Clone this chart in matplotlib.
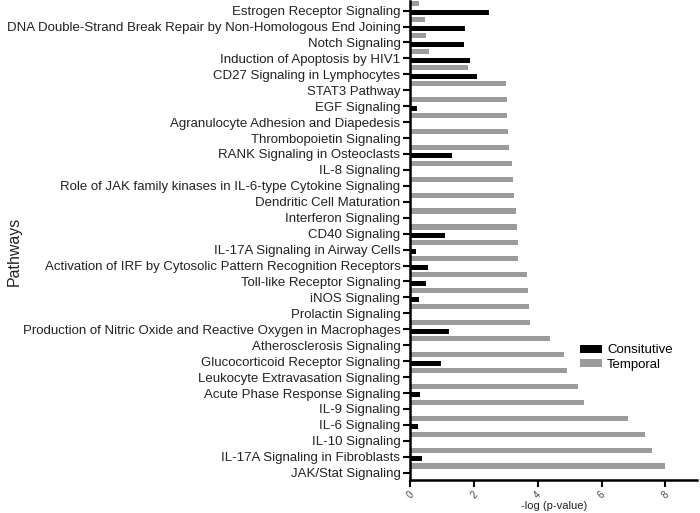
import numpy as np
import matplotlib
matplotlib.use('Agg')
import matplotlib.pyplot as plt
from matplotlib.patches import Patch

plt.rcParams['font.family'] = ['Liberation Sans', 'DejaVu Sans']

# pathways, listed bottom to top
pathways = [
    'JAK/Stat Signaling',
    'IL-17A Signaling in Fibroblasts',
    'IL-10 Signaling',
    'IL-6 Signaling',
    'IL-9 Signaling',
    'Acute Phase Response Signaling',
    'Leukocyte Extravasation Signaling',
    'Glucocorticoid Receptor Signaling',
    'Atherosclerosis Signaling',
    'Production of Nitric Oxide and Reactive Oxygen in Macrophages',
    'Prolactin Signaling',
    'iNOS Signaling',
    'Toll-like Receptor Signaling',
    'Activation of IRF by Cytosolic Pattern Recognition Receptors',
    'IL-17A Signaling in Airway Cells',
    'CD40 Signaling',
    'Interferon Signaling',
    'Dendritic Cell Maturation',
    'Role of JAK family kinases in IL-6-type Cytokine Signaling',
    'IL-8 Signaling',
    'RANK Signaling in Osteoclasts',
    'Thrombopoietin Signaling',
    'Agranulocyte Adhesion and Diapedesis',
    'EGF Signaling',
    'STAT3 Pathway',
    'CD27 Signaling in Lymphocytes',
    'Induction of Apoptosis by HIV1',
    'Notch Signaling',
    'DNA Double-Strand Break Repair by Non-Homologous End Joining',
    'Estrogen Receptor Signaling',
]

temporal = [7.99, 7.57, 7.37, 6.82, 5.45, 5.25, 4.92, 4.81, 4.38,
            3.76, 3.71, 3.69, 3.66, 3.39, 3.39, 3.35, 3.33, 3.27, 3.23, 3.18,
            3.09, 3.07, 3.04, 3.02, 3.00, 1.81, 0.60, 0.51, 0.46, 0.29]

constitutive = [0.0, 0.36, 0.0, 0.26, 0.0, 0.31, 0.0, 0.98, 0.0,
                1.23, 0.0, 0.28, 0.48, 0.57, 0.17, 1.09, 0.0, 0.0, 0.0, 0.0,
                1.32, 0.0, 0.0, 0.21, 0.0, 2.08, 1.88, 1.69, 1.72, 2.48]

xticks = [0, 2, 4, 6, 8]

fig = plt.figure(figsize=(7, 5.13), dpi=100)
ax = fig.add_axes([0.586, 0.064, 0.41, 0.934])

y = np.arange(len(pathways))
bh = 0.32
ax.barh(y + 0.42, temporal, height=bh, color='#9b9b9b', edgecolor='none')
ax.barh(y - 0.12, constitutive, height=bh, color='black', edgecolor='none')

ax.set_ylim(-0.47, len(pathways) - 0.4)
ax.set_xlim(0, 9)
ax.set_yticks(y)
ax.set_yticklabels(pathways, fontsize=9.55, color='#222222')
ax.set_xticks(xticks)
ax.set_xticklabels([str(t) for t in xticks], rotation=45, fontsize=7, color='#444444')

for s in ['top', 'right']:
    ax.spines[s].set_visible(False)
for s in ['left', 'bottom']:
    ax.spines[s].set_linewidth(1.8)
ax.tick_params(axis='both', width=1.5, length=5, pad=2)

ax.set_xlabel('-log (p-value)', fontsize=8, color='#222222', labelpad=0)
fig.text(0.021, 0.51, 'Pathways', rotation=90, fontsize=11.5, color='#222222',
         ha='center', va='center')

handles = [Patch(facecolor='black', label='Consitutive'),
           Patch(facecolor='#9b9b9b', label='Temporal')]
ax.legend(handles=handles, loc='upper left', bbox_to_anchor=(0.552, 0.308),
          frameon=False, fontsize=9.5, handlelength=1.6, handleheight=0.55,
          handletextpad=0.4, labelspacing=0.2)

fig.savefig('out.png', dpi=100)
